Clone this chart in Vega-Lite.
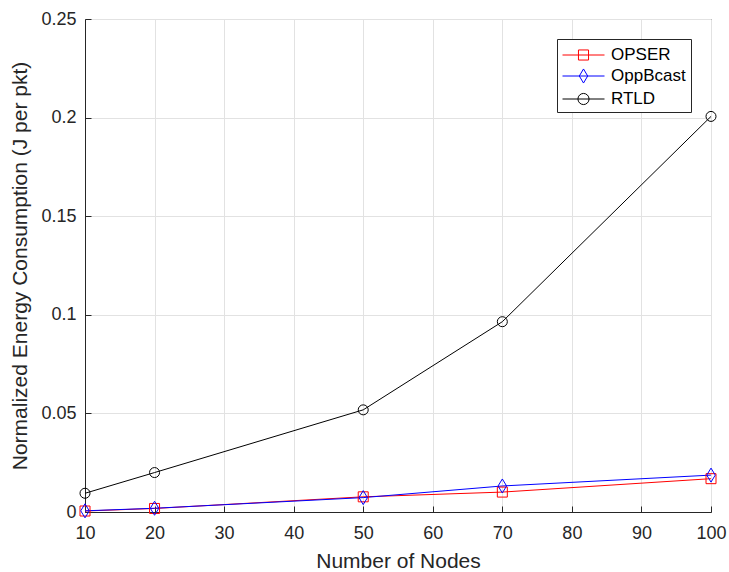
{
  "$schema": "https://vega.github.io/schema/vega-lite/v6.json",
  "width": 626,
  "height": 493,
  "autosize": {"type": "none"},
  "padding": {"left": 85, "top": 19, "right": 18, "bottom": 60},
  "background": "white",
  "config": {
    "font": "Liberation Sans",
    "view": {"stroke": "#262626", "strokeWidth": 1},
    "axis": {
      "labelFont": "Liberation Sans",
      "titleFont": "Liberation Sans",
      "labelFontSize": 18,
      "titleFontSize": 21,
      "labelColor": "#262626",
      "titleColor": "#262626",
      "titleFontWeight": "normal",
      "domainColor": "#262626",
      "tickColor": "#262626",
      "tickSize": -6,
      "labelFlush": false,
      "labelOverlap": false,
      "gridColor": "#e2e2e2",
      "gridOpacity": 1
    },
    "legend": {
      "labelFont": "Liberation Sans",
      "labelFontSize": 17,
      "labelColor": "#000000"
    }
  },
  "data": {
    "values": [
      {"nodes": 10, "series": "OPSER", "energy": 0.0005},
      {"nodes": 20, "series": "OPSER", "energy": 0.0018},
      {"nodes": 50, "series": "OPSER", "energy": 0.0077},
      {"nodes": 70, "series": "OPSER", "energy": 0.0101},
      {"nodes": 100, "series": "OPSER", "energy": 0.0169},
      {"nodes": 10, "series": "OppBcast", "energy": 0.0006},
      {"nodes": 20, "series": "OppBcast", "energy": 0.0019},
      {"nodes": 50, "series": "OppBcast", "energy": 0.0073},
      {"nodes": 70, "series": "OppBcast", "energy": 0.0132},
      {"nodes": 100, "series": "OppBcast", "energy": 0.0187},
      {"nodes": 10, "series": "RTLD", "energy": 0.0095},
      {"nodes": 20, "series": "RTLD", "energy": 0.0200},
      {"nodes": 50, "series": "RTLD", "energy": 0.0518},
      {"nodes": 70, "series": "RTLD", "energy": 0.0965},
      {"nodes": 100, "series": "RTLD", "energy": 0.2006}
    ]
  },
  "encoding": {
    "x": {
      "field": "nodes", "type": "quantitative",
      "scale": {"domain": [10, 100], "nice": false},
      "axis": {"values": [10, 20, 30, 40, 50, 60, 70, 80, 90, 100], "title": "Number of Nodes", "labelPadding": 18.5, "titlePadding": 8}
    },
    "y": {
      "field": "energy", "type": "quantitative",
      "scale": {"domain": [0, 0.25], "nice": false},
      "axis": {"values": [0, 0.05, 0.1, 0.15, 0.2, 0.25], "format": "~g", "title": "Normalized Energy Consumption (J per pkt)", "labelPadding": 15, "titlePadding": 10}
    }
  },
  "layer": [
    {
      "mark": {"type": "line", "strokeWidth": 1},
      "encoding": {
        "color": {"field": "series", "type": "nominal", "scale": {"domain": ["OPSER", "OppBcast", "RTLD"], "range": ["#ff0000", "#0000ff", "#000000"]}, "legend": null}
      }
    },
    {
      "mark": {"type": "point", "filled": false, "strokeWidth": 1, "size": 100, "opacity": 1},
      "encoding": {
        "color": {"field": "series", "type": "nominal", "scale": {"domain": ["OPSER", "OppBcast", "RTLD"], "range": ["#ff0000", "#0000ff", "#000000"]}, "legend": null},
        "shape": {"field": "series", "type": "nominal", "scale": {"domain": ["OPSER", "OppBcast", "RTLD"], "range": ["square", "M0,-1.4L0.85,0L0,1.4L-0.85,0Z", "circle"]}, "legend": null}
      }
    },
    {
      "mark": {"type": "point", "filled": false, "strokeWidth": 1, "size": 441, "opacity": 0},
      "encoding": {
        "color": {"field": "series", "type": "nominal", "scale": {"domain": ["OPSER", "OppBcast", "RTLD"], "range": ["#ff0000", "#0000ff", "#000000"]},
          "legend": {"title": null, "orient": "none", "legendX": 472, "legendY": 20, "symbolOpacity": 1, "symbolSize": 441, "symbolStrokeWidth": 1, "symbolFillColor": "transparent", "strokeColor": "#262626", "fillColor": "white", "padding": 5, "rowPadding": 2, "labelOffset": 27}},
        "shape": {"field": "series", "type": "nominal", "scale": {"domain": ["OPSER", "OppBcast", "RTLD"], "range": ["M-1,0H3M0.52,-0.48H1.48V0.48H0.52Z", "M-1,0H3M1,-0.67L1.4,0L1,0.67L0.6,0Z", "M-1,0H3M1.53,0A0.53,0.53 0 1,1 0.47,0A0.53,0.53 0 1,1 1.53,0Z"]},
          "legend": {"title": null, "orient": "none", "legendX": 472, "legendY": 20, "symbolOpacity": 1, "symbolSize": 441, "symbolStrokeWidth": 1, "symbolFillColor": "transparent", "strokeColor": "#262626", "fillColor": "white", "padding": 5, "rowPadding": 2, "labelOffset": 27}}
      }
    }
  ],
  "resolve": {"scale": {"shape": "independent", "color": "independent"}}
}
